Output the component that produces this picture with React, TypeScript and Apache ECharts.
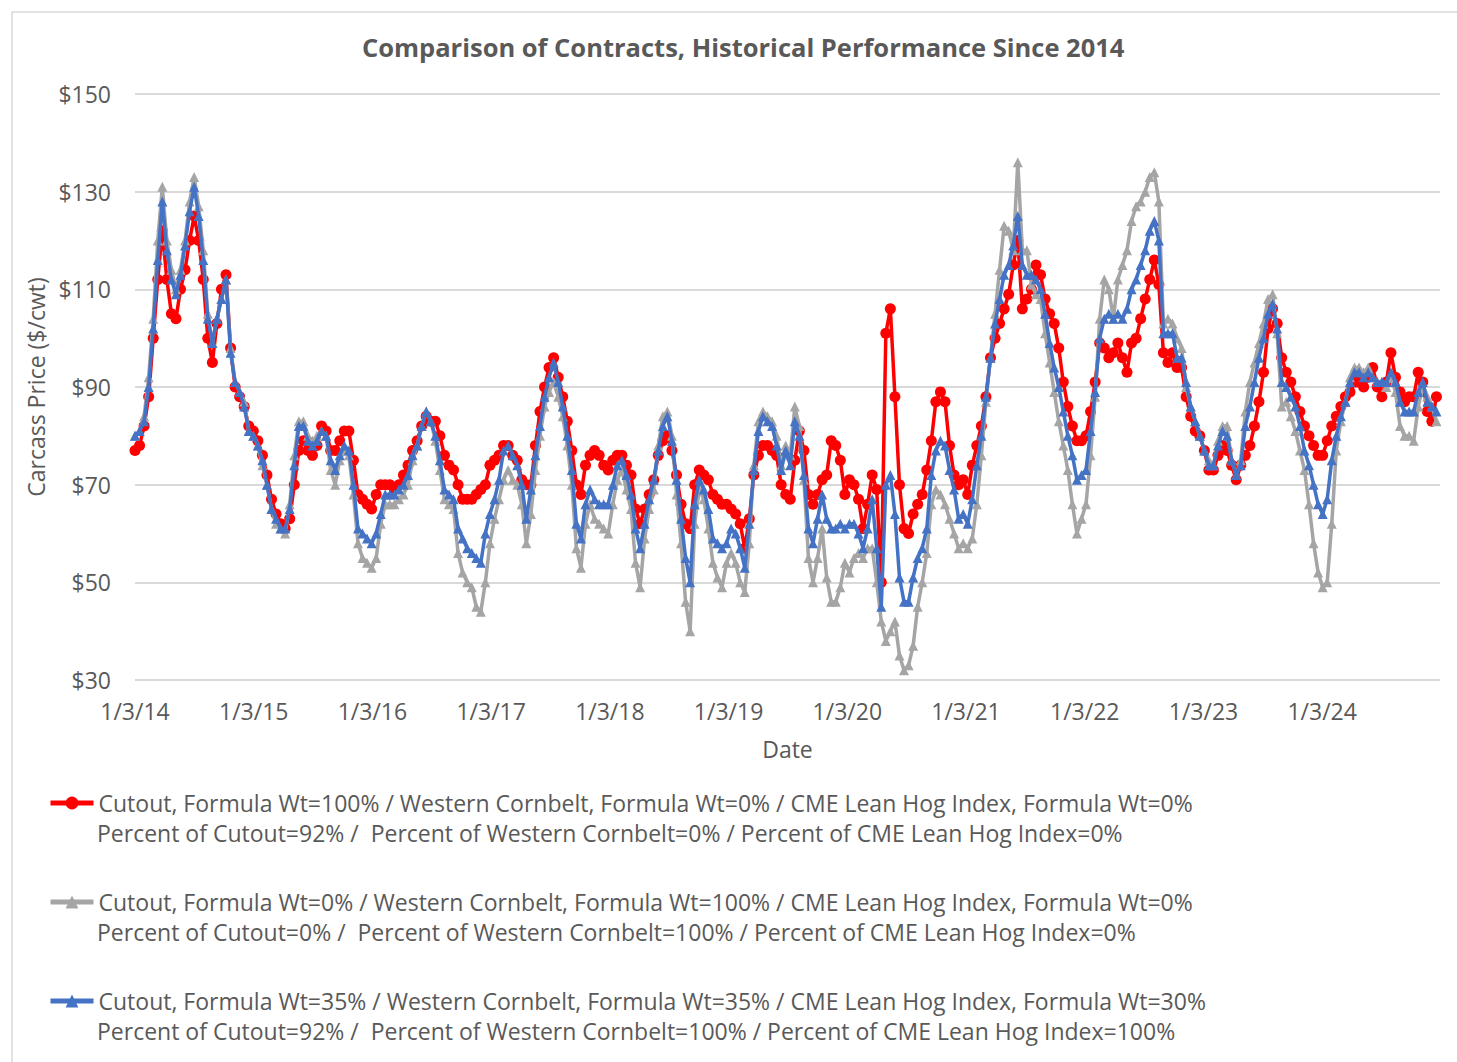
import React, { useEffect, useRef } from "react";
import * as echarts from "echarts";

// Bi-weekly observations starting 1/3/14 (day offset 0, step 14 days)
const STEP_DAYS = 14;

const cutout = [
  77,78,82,88,100,112,122,112,105,104,110,114,120,125,120,112,100,95,103,110,113,98,90,88,86,82,
  81,79,76,72,67,64,62,61,63,70,77,79,77,76,78,82,81,77,77,79,81,81,75,68,67,66,
  65,68,70,70,70,69,70,72,74,77,79,82,84,83,83,80,76,74,73,70,67,67,67,68,69,70,
  74,75,76,78,78,76,75,71,70,70,78,85,90,94,96,92,88,83,77,70,68,74,76,77,76,74,
  73,75,76,76,74,72,65,62,65,68,71,76,79,80,77,72,66,62,61,70,73,72,71,68,67,66,
  66,65,64,62,57,63,72,76,78,78,77,76,70,68,67,75,81,77,68,66,68,71,72,79,78,75,
  68,71,70,67,61,66,72,69,50,101,106,88,70,61,60,64,66,68,73,79,87,89,87,78,72,70,
  71,68,74,78,82,88,96,100,103,106,109,115,120,106,108,110,115,113,108,105,103,98,91,86,82,79,
  79,80,85,91,99,98,96,97,99,96,93,99,100,104,108,112,116,111,97,95,97,94,94,88,84,81,
  80,77,73,73,76,78,77,74,71,74,76,78,82,87,93,102,106,103,96,93,91,88,85,82,80,78,
  76,76,79,82,84,86,88,89,91,91,90,92,94,90,88,91,97,92,89,87,88,88,93,91,85,83,88,
];

const cornbelt = [
  80,81,84,92,104,120,131,120,114,110,114,120,128,133,127,118,105,99,104,108,112,98,91,89,87,81,
  80,78,74,70,65,62,61,60,66,76,83,83,80,79,80,81,80,73,70,75,77,76,68,58,55,54,
  53,55,62,66,66,66,67,68,70,75,78,82,85,83,79,73,67,66,65,56,52,50,49,45,44,50,
  58,63,67,71,73,71,70,66,58,64,73,80,86,89,91,88,84,78,70,57,53,62,66,63,62,61,
  60,66,71,73,69,65,54,49,59,65,69,78,84,85,80,68,58,46,40,62,69,67,61,54,51,49,
  54,56,54,50,48,58,74,83,85,84,83,80,74,78,76,86,82,71,55,50,55,61,51,46,46,49,
  54,52,55,56,55,57,57,50,42,38,40,42,35,32,33,37,45,50,56,66,69,68,66,63,60,57,
  58,57,59,66,76,87,96,105,114,123,122,118,136,118,118,111,109,108,101,95,89,83,78,73,66,60,
  63,66,76,88,104,112,110,104,112,115,118,124,127,128,130,133,134,128,103,104,103,100,98,90,86,83,
  80,77,75,74,79,82,82,75,72,75,85,91,95,99,103,108,109,101,86,87,84,81,77,73,66,58,
  52,49,50,62,77,83,87,92,94,94,93,94,92,91,91,90,92,89,82,80,80,79,86,90,88,86,83,
];

const blend = [
  80,81,83,90,102,116,128,118,112,109,113,119,126,131,125,116,104,99,104,108,112,97,91,89,86,81,
  80,78,75,70,65,63,61,61,65,74,82,82,79,78,79,81,80,75,73,76,78,77,70,61,60,59,
  58,60,64,68,68,68,69,70,72,76,78,82,85,83,80,75,69,68,67,61,59,57,56,55,54,60,
  64,67,71,77,78,76,74,70,63,69,76,82,88,92,95,91,86,80,73,62,59,66,69,67,66,66,
  66,70,74,75,72,68,61,57,62,67,71,77,82,84,79,71,63,55,50,66,71,69,65,59,58,57,
  58,61,60,57,53,62,73,81,84,83,82,78,73,77,74,83,80,72,61,58,63,68,63,61,61,62,
  61,62,62,60,57,61,67,57,45,70,72,64,51,46,46,51,55,57,61,72,77,79,78,73,69,63,
  64,62,67,74,80,88,96,103,108,113,115,119,125,115,113,113,112,110,105,99,94,90,85,80,76,71,
  72,73,81,89,100,104,105,104,105,104,106,110,112,115,118,122,124,120,101,101,101,96,96,91,86,83,
  80,77,74,74,78,81,80,75,72,74,82,86,91,96,100,105,107,102,91,90,88,86,82,77,74,70,
  66,64,67,75,80,84,87,91,93,93,92,93,92,91,91,91,93,91,87,85,85,85,89,91,87,86,85,
];

const seriesLine1 = [
  "Cutout, Formula Wt=100% / Western Cornbelt, Formula Wt=0% / CME Lean Hog Index, Formula Wt=0%",
  "Cutout, Formula Wt=0% / Western Cornbelt, Formula Wt=100% / CME Lean Hog Index, Formula Wt=0%",
  "Cutout, Formula Wt=35% / Western Cornbelt, Formula Wt=35% / CME Lean Hog Index, Formula Wt=30%",
];
const seriesLine2 = [
  "Percent of Cutout=92% /  Percent of Western Cornbelt=0% / Percent of CME Lean Hog Index=0%",
  "Percent of Cutout=0% /  Percent of Western Cornbelt=100% / Percent of CME Lean Hog Index=0%",
  "Percent of Cutout=92% /  Percent of Western Cornbelt=100% / Percent of CME Lean Hog Index=100%",
];
const seriesColors = ["#FF0000", "#A5A5A5", "#4472C4"];
const seriesSymbols = ["circle", "triangle", "triangle"];

const TITLE = "Comparison of Contracts, Historical Performance Since 2014";
const Y_NAME = "Carcass Price ($/cwt)";
const X_NAME = "Date";
const Y_MIN = 30;
const Y_MAX = 150;
const Y_STEP = 20;
const X_MAX_DAYS = 4015;
const YEAR_DAYS = 365.25;

const FONT = "Open Sans";
const TEXT = "#595959";
const FS = 23;

export default function App() {
  const ref = useRef<HTMLDivElement>(null);
  useEffect(() => {
    if (!ref.current) return;
    const chart = echarts.init(ref.current, undefined, { renderer: "svg" });
    const allData = [cutout, cornbelt, blend];
    const legendCenters = [803, 902, 1001];
    const option: any = {
      animation: false,
      backgroundColor: "#ffffff",
      textStyle: { fontFamily: FONT },
      title: {
        text: TITLE,
        left: 357,
        top: 29,
        textStyle: { fontFamily: FONT, fontSize: 25.5, fontWeight: "bold", color: TEXT },
      },
      grid: { left: 135, right: 17, top: 94, bottom: 382, containLabel: false },
      xAxis: {
        type: "value",
        min: 0,
        max: X_MAX_DAYS,
        interval: YEAR_DAYS,
        axisLine: { show: false },
        axisTick: { show: false },
        splitLine: { show: false },
        axisLabel: {
          showMaxLabel: false,
          margin: 19,
          color: TEXT,
          fontFamily: FONT,
          fontSize: FS,
          formatter: (v: number) => "1/3/" + (14 + Math.round(v / YEAR_DAYS)),
        },
        name: X_NAME,
        nameLocation: "middle",
        nameGap: 57,
        nameTextStyle: { color: TEXT, fontFamily: FONT, fontSize: FS },
      },
      yAxis: {
        type: "value",
        min: Y_MIN,
        max: Y_MAX,
        interval: Y_STEP,
        axisLine: { show: false },
        axisTick: { show: false },
        splitLine: { lineStyle: { color: "#d9d9d9", width: 2 } },
        axisLabel: {
          margin: 24,
          color: TEXT,
          fontFamily: FONT,
          fontSize: FS,
          formatter: "${value}",
        },
        name: Y_NAME,
        nameLocation: "middle",
        nameGap: 85,
        nameRotate: 90,
        nameTextStyle: { color: TEXT, fontFamily: FONT, fontSize: FS },
      },
      legend: seriesLine1.map((name, i) => ({
        data: [name],
        left: 48,
        top: legendCenters[i] - 13,
        padding: 0,
        itemWidth: 43,
        itemHeight: 16,
        selectedMode: false,
        lineStyle: { width: 5 },
        textStyle: { color: TEXT, fontFamily: FONT, fontSize: FS, lineHeight: 26 },
      })),
      graphic: [
        {
          type: "rect",
          shape: { x: 12, y: 12, width: 1460, height: 1070 },
          style: { fill: "none", stroke: "#d9d9d9", lineWidth: 1.5 },
          silent: true,
        },
        ...seriesLine2.map((t, i) => ({
          type: "text",
          left: 97,
          top: legendCenters[i] + 31 - 13,
          style: { text: t, fill: TEXT, font: `${FS}px "${FONT}"` },
        })),
      ],
      series: seriesLine1.map((name, i) => ({
        name,
        type: "line",
        data: allData[i].map((v, k) => [k * STEP_DAYS, v]),
        symbol: seriesSymbols[i],
        symbolSize: i === 0 ? 11 : 10,
        showAllSymbol: true,
        lineStyle: { color: seriesColors[i], width: 3.5 },
        itemStyle: { color: seriesColors[i] },
        z: 2 + i,
      })),
    };
    chart.setOption(option);
    return () => chart.dispose();
  }, []);
  return (
    <div
      ref={ref}
      style={{ position: "fixed", left: 0, top: 0, width: 1457, height: 1062 }}
    />
  );
}
